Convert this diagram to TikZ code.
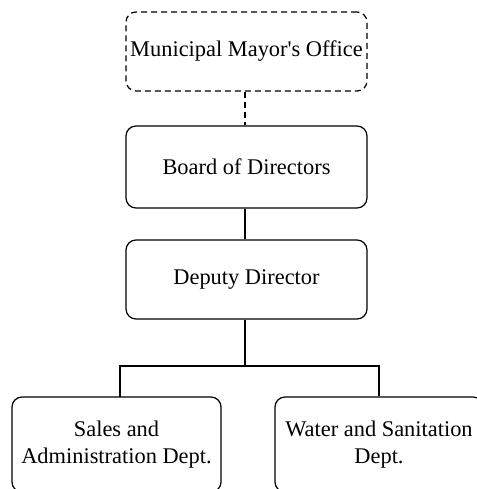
\documentclass[tikz,border=0pt]{standalone}
\usepackage{fontspec}
\setmainfont{Liberation Serif}
\begin{document}
\begin{tikzpicture}[x=1pt,y=-1pt,
  box/.style={draw, line width=1.2pt, rounded corners=10pt, inner sep=0pt, align=center,
    font=\fontsize{22.4}{27.5}\selectfont},
  conn/.style={line width=1.2pt},
  dsh/.style={dash pattern=on 6pt off 4pt}]
\useasboundingbox (0,0) rectangle (476,489);
\node[box, dsh, minimum width=241pt, minimum height=79pt] (mayor) at (246.5,51.5) {Municipal Mayor\textquotesingle s Office};
\node[box, minimum width=241pt, minimum height=82pt] (board) at (246.5,167) {Board of Directors};
\node[box, minimum width=241pt, minimum height=79pt] (deputy) at (246.5,279.5) {Deputy Director};
\node[box, minimum width=209pt, minimum height=95pt] (sales) at (116.5,444.5) {Sales and\\Administration Dept.};
\node[box, minimum width=208pt, minimum height=95pt] (water) at (379,444.5) {Water and Sanitation\\Dept.};
\coordinate (j) at (245,366);
\coordinate (sl) at (120,397);
\draw[conn, dsh] (mayor.south -| j) -- (board.north -| j);
\draw[conn] (board.south -| j) -- (deputy.north -| j);
\draw[conn] (deputy.south -| j) -- (j);
\draw[conn] (j) -| (sl);
\draw[conn] (j) -| (water.north);
\end{tikzpicture}
\end{document}
